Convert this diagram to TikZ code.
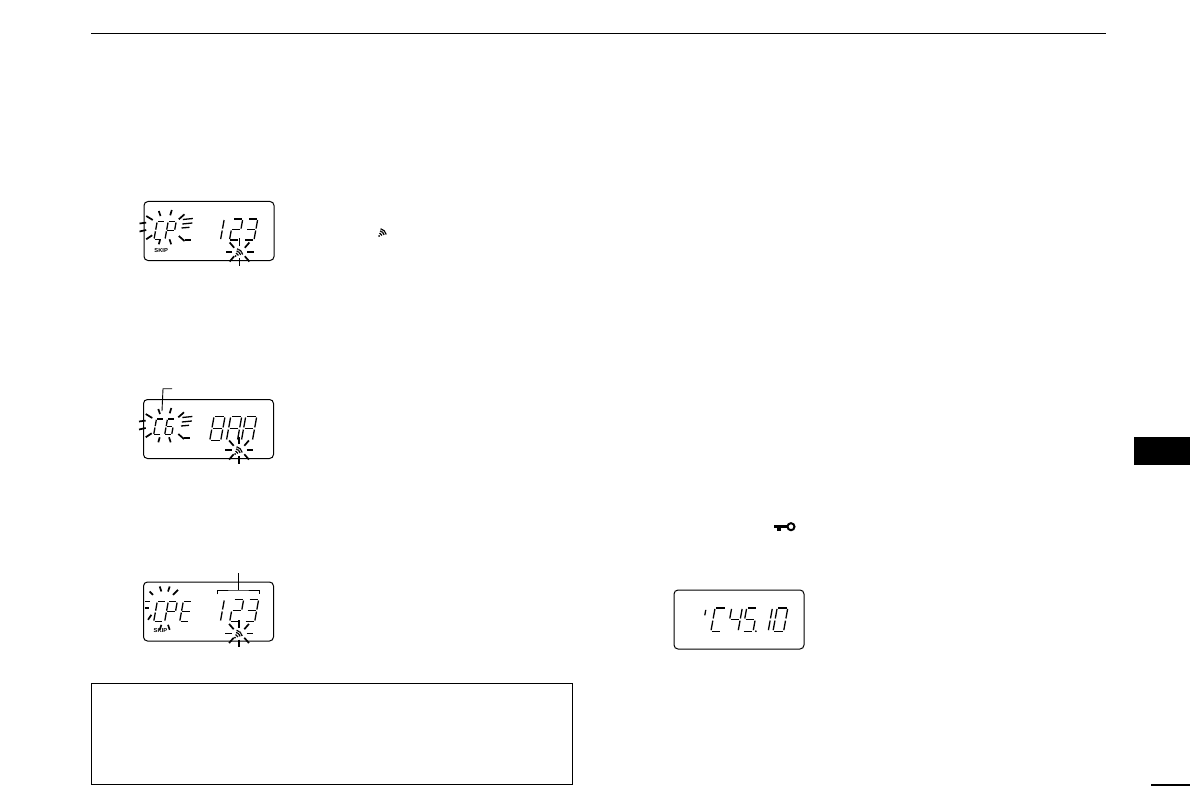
\documentclass[tikz,border=0pt]{standalone}
\usepackage{fontspec}
\setsansfont{Liberation Sans}
\usetikzlibrary{calc, positioning}
\tikzset {
    lcdbox/.style = {
        draw,
        shape = rectangle,
        rounded corners=4pt,
        line width=1pt,
        minimum width=130pt,
        minimum height=59pt,
        inner sep=0pt
    },
    lcdseg/.style = {
        line width=1.3pt
    },
    ray/.style = {
        line width=1.7pt
    },
    leader/.style = {
        line width=0.9pt
    },
    rule/.style = {
        line width=1.8pt
    },
    skiplabel/.style = {
        font=\sffamily\bfseries\fontsize{5.8}{6}\selectfont,
        inner sep=0pt
    },
    signalarc/.style = {
        line width=1.3pt,
        dash pattern=on 1pt off 0.4pt
    }
}

% One character of the display: x, baseline y, size, list of segments
\newcommand{\lcdchar}[4]{
    \begin{scope}[shift={(#1,#2)}, xslant=0.18, scale=#3]
        \coordinate (a1) at (1,-22);  \coordinate (a2) at (9,-22);
        \coordinate (b1) at (10,-21); \coordinate (b2) at (10,-12);
        \coordinate (c1) at (10,-10); \coordinate (c2) at (10,-1);
        \coordinate (d1) at (1,0);    \coordinate (d2) at (9,0);
        \coordinate (e1) at (0,-10);  \coordinate (e2) at (0,-1);
        \coordinate (f1) at (0,-21);  \coordinate (f2) at (0,-12);
        \coordinate (g1) at (1,-11);  \coordinate (g2) at (9,-11);
        \foreach \seg in {#4} {
            \draw[lcdseg] (\seg1) -- (\seg2);
        }
    \end{scope}
}

% Fan symbol, centre at x, y
\newcommand{\signalicon}[2]{
    \begin{scope}[shift={(#1,#2)}, y=1pt]
        \fill (-4,-4) circle (1);
        \foreach \rad in {3,5.2,7.4} {
            \draw[signalarc] ([shift={(-4,-4)}]12:\rad) arc (12:78:\rad);
        }
    \end{scope}
}

% Blink marks round the fan symbol
\newcommand{\signalrays}[2]{
    \signalicon{#1}{#2}
    \foreach \ang in {0,45,...,315} {
        \draw[ray] ($(#1,#2)+(\ang:7.5 and 6)$) -- ($(#1,#2)+(\ang:14 and 13.5)$);
    }
}

% Blink marks round the two left characters
\newcommand{\charrays}{
    \foreach \xa/\ya/\xb/\yb in {-4/22.5/2.7/21.6, -4/30.5/2.7/29, 2.7/15/9.3/19,
        2.7/38.3/8.7/34.3, 15.3/10/17/15, 28.3/9/26.7/14.3, 41/13.3/35.3/18.3,
        15.3/43.3/16.7/38.3, 27.7/43.3/26/38.3, 41/40/35.3/35} {
        \draw[ray] (\xa,\ya) -- (\xb,\yb);
    }
    \foreach \xa/\ya/\xb/\yb in {39.3/18.5/49.3/17.5, 38.8/23/48.8/22, 38/27/46/26.3, 41/39/47/39} {
        \draw[lcdseg] (\xa,\ya) -- (\xb,\yb);
    }
}

\begin{document}
\begin{tikzpicture}[x=1pt, y=-1pt]
    \useasboundingbox (0,0) rectangle (1190,786);

    % Page furniture : top rule, note frame, tab, page number rule
    \coordinate (ruleL) at (91,33.5);
    \coordinate (ruleR) at (1106,33.5);
    \draw[rule] (ruleL) -- (ruleR);
    \node [draw, line width=1pt, minimum width=481pt, minimum height=101pt, inner sep=0pt] (note) at (331.5,733.5) {};
    \node [fill=black, minimum width=56pt, minimum height=28pt, inner sep=0pt] (tab) at (1162,451) {};
    \coordinate (pageL) at (1151,785);
    \coordinate (pageR) at (1190,785);
    \draw[rule] (pageL) -- (pageR);

    % First display : CP 123
    \node [lcdbox] (disp1) at (209,231) {};
    \begin{scope}[shift={(disp1.north west)}]
        \charrays
        \lcdchar{10.5}{38.3}{0.8}{d,e,f,a}
        \lcdchar{21.5}{38.3}{0.8}{a,b,e,f,g}
        \lcdchar{77}{39}{0.95}{e,f}
        \lcdchar{86}{39}{0.95}{a,b,g,e,d}
        \lcdchar{101}{39}{0.95}{a,b,g,c,d}
        \signalrays{96}{51}
        \node [skiplabel] (skip1) at (17.7,49.3) {SKIP};
    \end{scope}

    % Second display : C6 888
    \node [lcdbox] (disp2) at (208.5,429) {};
    \begin{scope}[shift={(disp2.north west)}]
        \charrays
        \lcdchar{10.7}{35.5}{0.7}{a,d,e,f}
        \lcdchar{21.7}{35.5}{0.7}{a,c,d,e,f,g}
        \lcdchar{66.7}{41.6}{1.1}{a,b,c,d,e,f,g}
        \lcdchar{83.4}{41.6}{1.1}{a,b,c,e,f,g}
        \lcdchar{98.4}{41.6}{1.1}{a,b,c,e,f,g}
        \signalrays{96}{51}
    \end{scope}
    \coordinate (tag2) at (172,388.7);
    \coordinate (bend2) at (163,388.7);
    \coordinate (tip2) at (162,411);
    \draw[leader] (tag2) -- (bend2) -- (tip2);

    % Third display : CPE 123
    \node [lcdbox] (disp3) at (208.5,611.5) {};
    \begin{scope}[shift={(disp3.north west)}]
        \foreach \xa/\ya/\xb/\yb in {16.7/5/18.4/10, 26.7/5/25/10, 6.7/10/10/13.3,
            35/8.3/30/13.3, 2/20/6.7/20, 2/26.6/6/26.6, 5/38.3/8.4/33.3,
            16.7/48.3/18.4/43.3, 26.7/48.3/25/43.3} {
            \draw[ray] (\xa,\ya) -- (\xb,\yb);
        }
        \lcdchar{10.7}{40}{0.9}{a,d,e,f}
        \lcdchar{21.7}{40}{0.9}{a,b,e,f,g}
        \lcdchar{36.7}{40}{0.9}{a,d,e,f,g}
        \lcdchar{77.4}{40}{1}{e,f}
        \lcdchar{86.7}{40}{1}{a,b,g,e,d}
        \lcdchar{101.7}{40}{1}{a,b,g,c,d}
        \signalrays{96}{52}
        \node [skiplabel] (skip3) at (17.5,49.3) {SKIP};
    \end{scope}
    \coordinate (tag3) at (238.3,573.3);
    \coordinate (mid3) at (238.3,590);
    \coordinate (left3) at (217.3,594.3);
    \coordinate (right3) at (259.3,594.3);
    \draw[leader] (tag3) -- (mid3);
    \draw[leader] (left3) |- (mid3) -| (right3);

    % Fourth display : 1C45.10
    \node [lcdbox] (disp4) at (739,619.5) {};
    \begin{scope}[shift={(disp4.north west)}]
        \lcdchar{30}{33}{0.6}{f}
        \lcdchar{37.4}{41.7}{1.06}{a,d,e,f}
        \lcdchar{54}{41.7}{1.06}{f,g,b,c}
        \lcdchar{69}{41.7}{1.06}{a,f,g,c,d}
        \fill (82.4,41.7) circle (1);
        \lcdchar{94.7}{41.7}{1.06}{e,f}
        \lcdchar{99.5}{41.7}{1.06}{a,b,c,d,e,f}
    \end{scope}

    % Symbols standing alone in the page
    \signalicon{383}{232}
    \coordinate (keyL) at (774.3,526.7);
    \coordinate (keyR) at (788,526.7);
    \coordinate (toothT) at (779,526.7);
    \coordinate (toothB) at (779,530.5);
    \draw[line width=3pt] (keyL) -- (keyR);
    \draw[line width=3.5pt] (toothT) -- (toothB);
    \node [draw, shape=circle, line width=2pt, minimum size=7pt, inner sep=0pt] (keyring) at (791,526.7) {};
\end{tikzpicture}
\end{document}
